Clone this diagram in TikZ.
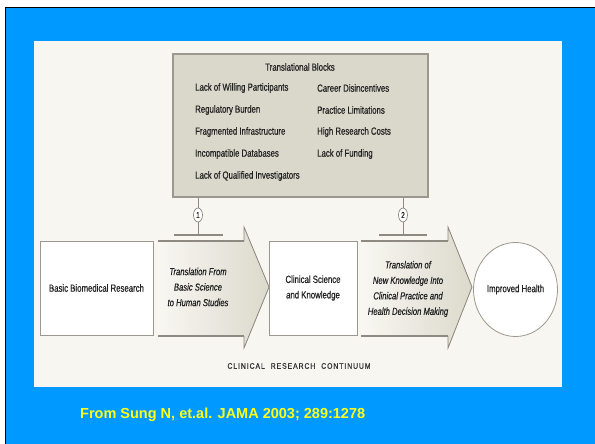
\documentclass[tikz,border=0pt]{standalone}
\usepackage{fontspec}
\setmainfont{Liberation Sans}
\newfontfamily\narrow[FakeStretch=0.75,FakeBold=0.5]{Liberation Sans}
\newfontfamily\spaced[LetterSpace=12,FakeStretch=0.85,FakeBold=0.6]{Liberation Sans}
\usetikzlibrary{shapes.geometric}
\definecolor{bgblue}{HTML}{0099FF}
\definecolor{panel}{HTML}{F7F6F1}
\definecolor{blockfill}{HTML}{DAD7CB}
\definecolor{blockline}{HTML}{9C988F}
\definecolor{lineg}{HTML}{8E8A82}
\definecolor{txt}{HTML}{222222}
\definecolor{arrL}{HTML}{F8F7F2}
\definecolor{arrR}{HTML}{DCD9CC}
\definecolor{footer}{HTML}{FFFF1A}
\tikzset{
  lbl/.style={inner sep=0pt, text=txt, font=\narrow\fontsize{10.4}{11}\selectfont},
  itlbl/.style={inner sep=0pt, text=txt, align=center, font=\narrow\itshape\fontsize{10.2}{15.5}\selectfont},
  whitebox/.style={draw=blockline, line width=0.8pt, fill=white, inner sep=0pt, text=txt, align=center,
     font=\narrow\fontsize{10.4}{15.5}\selectfont},
  numoval/.style={draw=lineg, line width=0.7pt, fill=white, ellipse, inner sep=0pt,
     minimum width=9pt, minimum height=14pt, text=txt, font=\narrow\fontsize{8.5}{9}\selectfont},
  conn/.style={draw=lineg, line width=0.7pt},
  tbar/.style={draw=lineg, line width=1.8pt},
  shaft/.style={draw=lineg, line width=1.8pt},
  headedge/.style={draw=lineg, line width=0.8pt},
}
\begin{document}
\begin{tikzpicture}[x=1pt,y=-1pt]
\useasboundingbox (0,0) rectangle (595,444);
\fill[white] (0,0) rectangle (595,444);
\filldraw[fill=bgblue, draw=black, line width=1pt] (5.5,7.5) rectangle (600,450);
\fill[panel] (34,41) rectangle (562,387);

% translational blocks box
\node[draw=blockline, line width=1.2pt, fill=blockfill, minimum width=255pt, minimum height=143pt, inner sep=0pt]
  (blocks) at (300.5,125.5) {};
\node[lbl] (title) at (300,67) {Translational Blocks};
\node[lbl, anchor=west] (b1) at (195,88) {Lack of Willing Participants};
\node[lbl, anchor=west] (b2) at (195,110) {Regulatory Burden};
\node[lbl, anchor=west] (b3) at (195,132) {Fragmented Infrastructure};
\node[lbl, anchor=west] (b4) at (195,154) {Incompatible Databases};
\node[lbl, anchor=west] (b5) at (195,176) {Lack of Qualified Investigators};
\node[lbl, anchor=west] (c1) at (317,88) {Career Disincentives};
\node[lbl, anchor=west] (c2) at (317,110) {Practice Limitations};
\node[lbl, anchor=west] (c3) at (317,132) {High Research Costs};
\node[lbl, anchor=west] (c4) at (317,154) {Lack of Funding};

% numbered blocks
\node[numoval] (n1) at (198,215) {1};
\node[numoval] (n2) at (403,215) {2};
\coordinate (bar1) at (198,235);
\coordinate (bar2) at (403,235);
\draw[conn] (n1 |- blocks.south) -- (n1.north);
\draw[conn] (n1.south) -- (bar1);
\draw[conn] (n2 |- blocks.south) -- (n2.north);
\draw[conn] (n2.south) -- (bar2);
\draw[tbar] ([xshift=-24pt]bar1) -- ([xshift=25pt]bar1);
\draw[tbar] ([xshift=-24pt]bar2) -- ([xshift=24pt]bar2);

% arrows
\fill[left color=arrL, right color=arrR] (158,241) -- (244,241) -- (244,227) -- (269,287) -- (244,348) -- (244,336) -- (158,336) -- cycle;
\draw[shaft] (158,241) -- (244,241);
\draw[shaft] (158,336) -- (244,336);
\draw[headedge] (244,241) -- (244,227) -- (269,287) -- (244,348) -- (244,336);
\fill[left color=arrL, right color=arrR] (361,241) -- (448,241) -- (448,227) -- (472,287) -- (448,348) -- (448,336) -- (361,336) -- cycle;
\draw[shaft] (361,241) -- (448,241);
\draw[shaft] (361,336) -- (448,336);
\draw[headedge] (448,241) -- (448,227) -- (472,287) -- (448,348) -- (448,336);

\node[itlbl] (t1) at (198,287) {Translation From\\Basic Science\\to Human Studies};
\node[itlbl] (t2) at (408,289) {Translation of\\New Knowledge Into\\Clinical Practice and\\Health Decision Making};

% boxes
\node[whitebox, minimum width=113pt, minimum height=94pt] (basic) at (96.5,288) {Basic Biomedical Research};
\node[whitebox, minimum width=88pt, minimum height=94pt] (clin) at (313,288) {Clinical Science\\and Knowledge};
\node[whitebox, ellipse, minimum width=84pt, minimum height=94pt] (health) at (515.5,289.5) {Improved Health};

\node[inner sep=0pt, text=black!80, font=\spaced\fontsize{8}{9}\selectfont] (cont) at (299,366)
  {CLINICAL\hspace{6pt}RESEARCH\hspace{6pt}CONTINUUM};

\node[anchor=base west, inner sep=0pt, text=footer, font=\fontsize{14.5}{16}\selectfont\bfseries] (src) at (80,418)
  {From Sung N, et.al. JAMA 2003; 289:1278};
\end{tikzpicture}
\end{document}
